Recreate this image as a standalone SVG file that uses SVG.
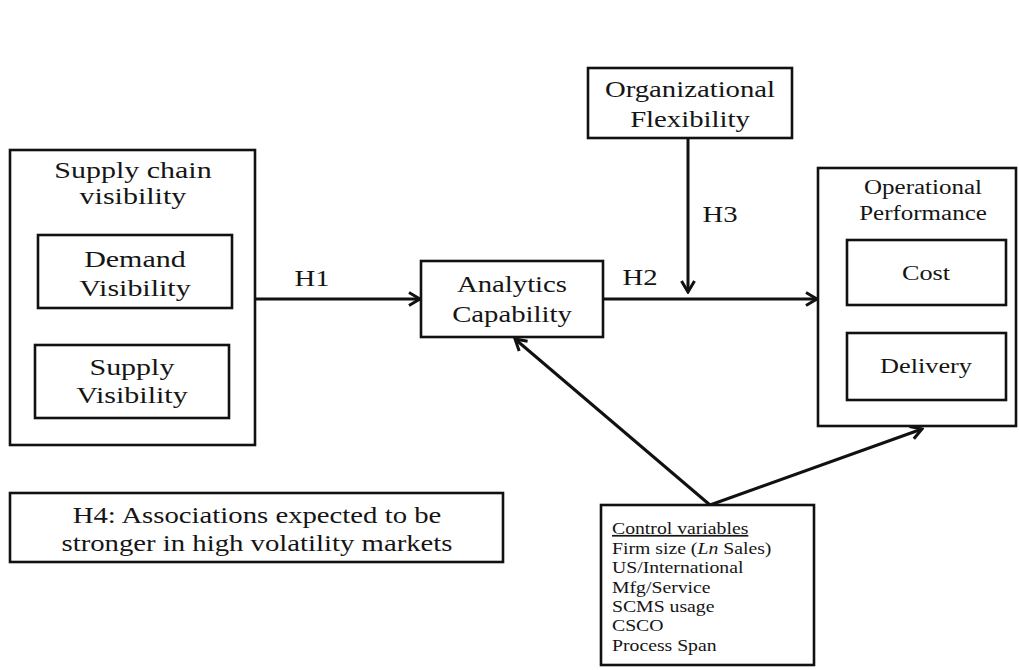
<svg xmlns="http://www.w3.org/2000/svg" width="1019" height="670" viewBox="0 0 1019 670">
  <defs>
    <style>
      .box { fill: #ffffff; stroke: #111111; stroke-width: 2.6; }
      .link { fill: none; stroke: #111111; stroke-width: 3; }
      .t { font-family: "Liberation Serif", "Times New Roman", serif; fill: #151515; text-anchor: middle;
           transform-box: fill-box; transform-origin: center; transform: scaleX(1.25); }
      .tl { font-family: "Liberation Serif", "Times New Roman", serif; fill: #151515; text-anchor: start;
            font-size: 17px; transform-box: fill-box; transform-origin: left center; transform: scaleX(1.16); }
      .f24 { font-size: 24px; }
      .f23 { font-size: 23px; }
      .f21 { font-size: 21px; }
      .f20 { font-size: 20px; }
    </style>
    <marker id="arrow" viewBox="0 0 16 16" refX="14" refY="8" markerWidth="16" markerHeight="16"
            markerUnits="userSpaceOnUse" orient="auto">
      <path d="M3,1.5 L14,8 L3,14.5" fill="none" stroke="#111111" stroke-width="3"/>
    </marker>
  </defs>

  <rect width="1019" height="670" fill="#ffffff"/>

  <!-- connectors -->
  <g id="connectors">
    <line class="link" x1="255" y1="299" x2="420" y2="299" marker-end="url(#arrow)"/>
    <line class="link" x1="603" y1="299" x2="817" y2="299" marker-end="url(#arrow)"/>
    <line class="link" x1="688" y1="138" x2="688" y2="292" marker-end="url(#arrow)"/>
    <line class="link" x1="710" y1="505" x2="515" y2="339" marker-end="url(#arrow)"/>
    <line class="link" x1="710" y1="505" x2="922" y2="429" marker-end="url(#arrow)"/>
    <text class="t f23" x="312" y="286">H1</text>
    <text class="t f23" x="640" y="285">H2</text>
    <text class="t f23" x="720" y="222">H3</text>
  </g>

  <!-- supply chain visibility construct -->
  <g id="supply-chain-visibility">
    <rect class="box" x="10" y="150" width="245" height="295"/>
    <text class="t f24" x="133" y="178">Supply chain</text>
    <text class="t f24" x="133" y="204">visibility</text>
  </g>
  <g id="demand-visibility">
    <rect class="box" x="38" y="235" width="194" height="73"/>
    <text class="t f24" x="135" y="267">Demand</text>
    <text class="t f24" x="135" y="296">Visibility</text>
  </g>
  <g id="supply-visibility">
    <rect class="box" x="35" y="345" width="194" height="73"/>
    <text class="t f24" x="132" y="375">Supply</text>
    <text class="t f24" x="132" y="403">Visibility</text>
  </g>

  <!-- analytics capability -->
  <g id="analytics-capability">
    <rect class="box" x="421" y="261" width="182" height="76"/>
    <text class="t f23" x="512" y="292">Analytics</text>
    <text class="t f23" x="512" y="322">Capability</text>
  </g>

  <!-- moderator -->
  <g id="organizational-flexibility">
    <rect class="box" x="588" y="68" width="204" height="70"/>
    <text class="t f23" x="690" y="97">Organizational</text>
    <text class="t f23" x="690" y="127">Flexibility</text>
  </g>

  <!-- operational performance construct -->
  <g id="operational-performance">
    <rect class="box" x="818" y="168" width="198" height="258"/>
    <text class="t f20" x="923" y="194">Operational</text>
    <text class="t f20" x="923" y="220">Performance</text>
  </g>
  <g id="cost">
    <rect class="box" x="847" y="240" width="159" height="65"/>
    <text class="t f21" x="926" y="280">Cost</text>
  </g>
  <g id="delivery">
    <rect class="box" x="847" y="333" width="159" height="67"/>
    <text class="t f21" x="926" y="373">Delivery</text>
  </g>

  <!-- hypothesis note -->
  <g id="h4-note">
    <rect class="box" x="10" y="493" width="493" height="69"/>
    <text class="t f23" x="257" y="523">H4: Associations expected to be</text>
    <text class="t f23" x="257" y="551">stronger in high volatility markets</text>
  </g>

  <!-- control variables -->
  <g id="control-variables">
    <rect class="box" x="601" y="505" width="213" height="160"/>
    <text class="tl" x="612" y="534" text-decoration="underline">Control  variables</text>
    <text class="tl" x="612" y="554">Firm size (<tspan font-style="italic">Ln</tspan> Sales)</text>
    <text class="tl" x="612" y="573">US/International</text>
    <text class="tl" x="612" y="593">Mfg/Service</text>
    <text class="tl" x="612" y="612">SCMS usage</text>
    <text class="tl" x="612" y="631">CSCO</text>
    <text class="tl" x="612" y="651">Process Span</text>
  </g>
</svg>
